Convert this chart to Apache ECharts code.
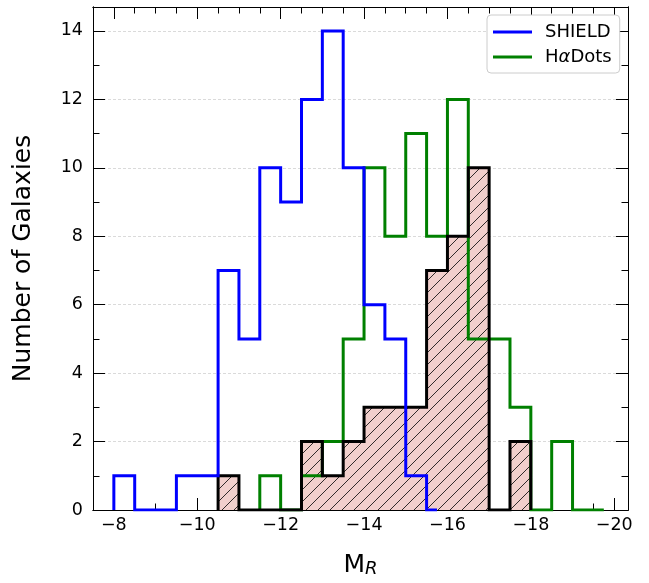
<!DOCTYPE html>
<html>
<head>
<meta charset="utf-8">
<script src="https://cdn.jsdelivr.net/npm/echarts@6/dist/echarts.min.js"></script>
<style>
  html, body { margin: 0; padding: 0; background: #fff; }
  #chart { width: 649px; height: 583px; }
</style>
</head>
<body>
<div id="chart"></div>
<script>
// bin edges (M_R) and counts
const blueEdges = [-8, -8.5, -9, -9.5, -10, -10.5, -11, -11.5, -12, -12.5, -13, -13.5, -14, -14.5, -15, -15.5, -15.75];
const blueCounts = [1, 0, 0, 1, 1, 7, 5, 10, 9, 12, 14, 10, 6, 5, 1, 0];

const greenEdges = [-11.5, -12, -12.5, -13, -13.5, -14, -14.5, -15, -15.5, -16, -16.5, -17, -17.5, -18, -18.5, -19, -19.5, -19.75];
const greenCounts = [1, 0, 1, 2, 5, 10, 8, 11, 8, 12, 5, 5, 3, 0, 2, 0, 0];

const bothEdges = [-10.5, -11, -11.5, -12, -12.5, -13, -13.5, -14, -14.5, -15, -15.5, -16, -16.5, -17, -17.5, -18];
const bothCounts = [1, 0, 0, 0, 2, 1, 2, 3, 3, 3, 7, 8, 10, 0, 2];

const xMajor = [-8, -10, -12, -14, -16, -18, -20];
const yMajor = [0, 2, 4, 6, 8, 10, 12, 14];
const yMinor = [1, 3, 5, 7, 9, 11, 13];

const FONT = 'DejaVu Sans';

let xMinor = [];
for (let v = -7.5; v >= -20.25; v -= 0.5) xMinor.push(v);

function stepPoints(edges, counts) {
  let pts = [[edges[0], 0]];
  counts.forEach((c, i) => {
    pts.push([edges[i], c]);
    pts.push([edges[i + 1], c]);
  });
  pts.push([edges[edges.length - 1], 0]);
  return pts;
}

function makeHatch() {
  const c = document.createElement('canvas');
  c.width = 12;
  c.height = 12;
  const g = c.getContext('2d');
  g.fillStyle = '#f1cfcc';
  g.fillRect(0, 0, 12, 12);
  g.strokeStyle = '#000';
  g.lineWidth = 0.8;
  g.beginPath();
  g.moveTo(0, 12); g.lineTo(12, 0);
  g.moveTo(-6, 6); g.lineTo(6, -6);
  g.moveTo(6, 18); g.lineTo(18, 6);
  g.stroke();
  return c;
}

const chart = echarts.init(document.getElementById('chart'), null, { renderer: 'canvas' });

const minus = v => String(v).replace('-', '\u2212');

function xAx(pos, ticks, len, labels) {
  return {
    type: 'value', position: pos, inverse: true, min: -20.33, max: -7.5,
    axisLine: { show: true, onZero: false, lineStyle: { color: '#000', width: 1 } },
    axisTick: { show: true, inside: true, length: len, customValues: ticks, lineStyle: { color: '#000', width: 1 } },
    axisLabel: labels ? {
      show: true, customValues: xMajor, margin: 6, color: '#000', fontSize: 17.5, fontFamily: FONT,
      formatter: minus
    } : { show: false },
    splitLine: { show: false }
  };
}

function yAx(pos, ticks, len, labels) {
  return {
    type: 'value', position: pos, min: 0, max: 14.7, interval: 2,
    axisLine: { show: true, onZero: false, lineStyle: { color: '#000', width: 1 } },
    axisTick: { show: true, inside: true, length: len, customValues: ticks, lineStyle: { color: '#000', width: 1 } },
    axisLabel: labels ? {
      show: true, customValues: yMajor, margin: 10, color: '#000', fontSize: 17.5, fontFamily: FONT
    } : { show: false },
    splitLine: labels ? { show: true, lineStyle: { color: '#d0d0d0', width: 0.8, type: [3, 2] } } : { show: false }
  };
}

let xBottom = xAx('bottom', xMajor, 12, true);
xBottom.name = '{m|M}{r|R}';
xBottom.nameLocation = 'middle';
xBottom.nameGap = 42;
xBottom.nameTextStyle = {
  color: '#000',
  rich: {
    m: { fontSize: 25, fontFamily: FONT, color: '#000' },
    r: { fontSize: 18, fontFamily: FONT, fontStyle: 'italic', color: '#000', padding: [8, 0, 0, 0] }
  }
};

let yLeft = yAx('left', yMajor, 12, true);
yLeft.name = 'Number of Galaxies';
yLeft.nameLocation = 'middle';
yLeft.nameGap = 57;
yLeft.nameTextStyle = { fontSize: 25, fontFamily: FONT, color: '#000' };

const option = {
  animation: false,
  textStyle: { fontFamily: FONT },
  grid: { left: 93, right: 21, top: 7, bottom: 69 },
  legend: {
    data: ['SHIELD', 'H\u03b1Dots'],
    orient: 'vertical',
    left: 487, top: 15,
    padding: [7, 8, 6, 6],
    itemGap: 5,
    itemWidth: 39, itemHeight: 3,
    icon: 'path://M0,0H40V3H0Z',
    backgroundColor: '#fff',
    borderColor: '#cccccc', borderWidth: 1, borderRadius: 4,
    textStyle: {
      fontSize: 18, fontFamily: FONT, color: '#000', lineHeight: 20, padding: [0, 0, 0, 8],
      rich: { i: { fontSize: 18, fontFamily: FONT, fontStyle: 'italic', color: '#000', lineHeight: 20 } }
    },
    formatter: name => name === 'H\u03b1Dots' ? 'H{i|\u03b1}Dots' : name
  },
  xAxis: [
    xBottom,
    xAx('bottom', xMinor, 6.5, false),
    xAx('top', xMajor, 12, false),
    xAx('top', xMinor, 6.5, false)
  ],
  yAxis: [
    yLeft,
    yAx('left', yMinor, 6.5, false),
    yAx('right', yMajor, 12, false),
    yAx('right', yMinor, 6.5, false)
  ],
  series: [
    {
      name: 'both-fill', type: 'line', data: stepPoints(bothEdges, bothCounts),
      symbol: 'none', silent: true,
      lineStyle: { width: 0 },
      areaStyle: { color: { image: makeHatch(), repeat: 'repeat' }, opacity: 1 },
      z: 2
    },
    {
      name: 'H\u03b1Dots', type: 'line', data: stepPoints(greenEdges, greenCounts),
      symbol: 'none', itemStyle: { color: '#008000' },
      lineStyle: { color: '#008000', width: 3, join: 'miter' }, z: 3
    },
    {
      name: 'both', type: 'line', data: stepPoints(bothEdges, bothCounts),
      symbol: 'none', itemStyle: { color: '#000' },
      lineStyle: { color: '#000', width: 3, join: 'miter' }, z: 4
    },
    {
      name: 'SHIELD', type: 'line', data: stepPoints(blueEdges, blueCounts),
      symbol: 'none', itemStyle: { color: '#0000ff' },
      lineStyle: { color: '#0000ff', width: 3, join: 'miter' }, z: 5
    }
  ]
};

chart.setOption(option);
</script>
</body>
</html>
